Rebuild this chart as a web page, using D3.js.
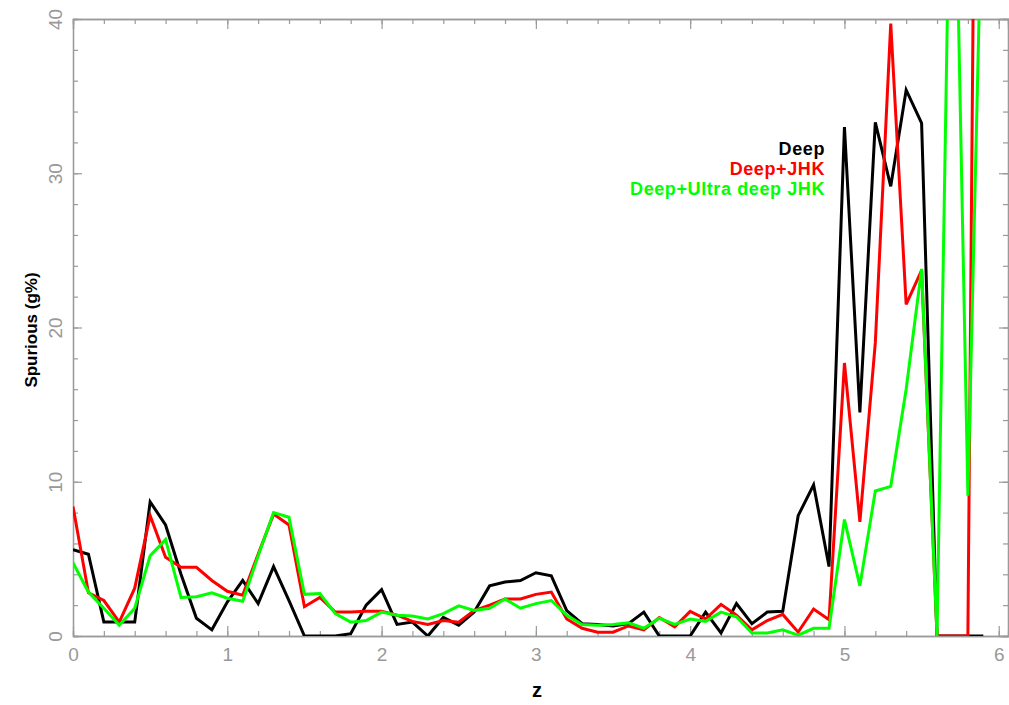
<!DOCTYPE html>
<html>
<head>
<meta charset="utf-8">
<script src="https://cdn.jsdelivr.net/npm/d3@7"></script>
<style>
  body { margin: 0; background: #fff; }
  svg { display: block; }
  .tick text { font-family: 'Liberation Sans', Arial, sans-serif; }
</style>
</head>
<body>
<div id="chart"></div>
<script>
'use strict'

// redshift bins
var zBins = [0.0, 0.1, 0.2, 0.3, 0.4, 0.5, 0.6, 0.7, 0.8, 0.9,
  1.0, 1.1, 1.2, 1.3, 1.4, 1.5, 1.6, 1.7, 1.8, 1.9,
  2.0, 2.1, 2.2, 2.3, 2.4, 2.5, 2.6, 2.7, 2.8, 2.9,
  3.0, 3.1, 3.2, 3.3, 3.4, 3.5, 3.6, 3.7, 3.8, 3.9,
  4.0, 4.1, 4.2, 4.3, 4.4, 4.5, 4.6, 4.7, 4.8, 4.9,
  5.0, 5.1, 5.2, 5.3, 5.4, 5.5, 5.6, 5.7, 5.8, 5.9]

var deep = [5.6, 5.3, 0.9, 0.9, 0.9, 8.7, 7.2, 4.0, 1.15, 0.4,
  2.2, 3.6, 2.1, 4.5, 2.3, 0, 0, 0, 0.15, 2.0,
  3.0, 0.75, 0.9, 0, 1.2, 0.7, 1.55, 3.25, 3.5, 3.6,
  4.1, 3.9, 1.65, 0.8, 0.75, 0.65, 0.8, 1.55, 0, 0,
  0, 1.55, 0.2, 2.1, 0.8, 1.55, 1.6, 7.8, 9.8, 4.5,
  33.0, 14.5, 33.3, 29.15, 35.4, 33.25, 0, 0, 0, 0]

var deepJHK = [8.4, 2.8, 2.3, 0.9, 3.1, 7.8, 5.1, 4.45, 4.45, 3.6,
  2.9, 2.65, 5.3, 7.9, 7.2, 1.9, 2.5, 1.55, 1.55, 1.6,
  1.6, 1.35, 0.95, 0.75, 1.0, 0.9, 1.65, 2.0, 2.4, 2.4,
  2.7, 2.85, 1.1, 0.5, 0.25, 0.25, 0.65, 0.4, 1.2, 0.6,
  1.6, 1.1, 2.05, 1.35, 0.4, 1.0, 1.4, 0.25, 1.75, 1.05,
  17.7, 7.4, 19.0, 39.7, 21.5, 23.7, 0, 0, 0, 120]

var deepUltra = [4.75, 2.85, 1.8, 0.7, 1.8, 5.2, 6.25, 2.5, 2.55, 2.8,
  2.45, 2.25, 5.2, 8.0, 7.7, 2.7, 2.75, 1.45, 0.9, 1.0,
  1.55, 1.35, 1.3, 1.1, 1.45, 1.95, 1.65, 1.8, 2.4, 1.8,
  2.1, 2.3, 1.35, 0.75, 0.7, 0.75, 0.85, 0.5, 1.15, 0.75,
  1.1, 0.95, 1.55, 1.25, 0.2, 0.2, 0.4, 0.05, 0.5, 0.5,
  7.55, 3.25, 9.4, 9.7, 16.0, 23.8, 0, 60, 9.1, 52]

var seriesNames = ['Deep', 'Deep+JHK', 'Deep+Ultra deep JHK']
var seriesColors = ['#000000', '#ff0000', '#00ff00']
var xTicks = [0, 1, 2, 3, 4, 5, 6]
var yTicks = [0, 10, 20, 30, 40]

var width = 1009
var height = 705
var plotLeft = 73
var plotRight = 1008
var plotTop = 19
var plotBottom = 636

var x = d3.scaleLinear().domain([0, 6.06]).range([plotLeft, plotRight])
var y = d3.scaleLinear().domain([0, 40]).range([plotBottom, plotTop])

var svg = d3.select('#chart').append('svg')
  .attr('width', width)
  .attr('height', height)

svg.append('defs').append('clipPath')
  .attr('id', 'plot')
  .append('rect')
  .attr('x', plotLeft)
  .attr('y', plotTop)
  .attr('width', plotRight - plotLeft)
  .attr('height', plotBottom - plotTop)

var axisColor = '#9a9a9a'

function styleAxis (g) {
  g.select('.domain').attr('stroke', axisColor).attr('stroke-width', 1.3)
  g.selectAll('.tick line').attr('stroke', axisColor).attr('stroke-width', 1.2)
  g.selectAll('.tick text')
    .attr('fill', '#999999')
    .style('font-size', '19px')
}

var xMinor = d3.range(0, 6.05, 0.2)
var yMinor = d3.range(0, 40.1, 2)

// minor ticks
svg.append('g')
  .attr('transform', 'translate(0,' + plotBottom + ')')
  .call(d3.axisBottom(x).tickValues(xMinor).tickSize(-5).tickFormat(''))
  .call(styleAxis)
svg.append('g')
  .attr('transform', 'translate(0,' + plotTop + ')')
  .call(d3.axisTop(x).tickValues(xMinor).tickSize(-5).tickFormat(''))
  .call(styleAxis)
svg.append('g')
  .attr('transform', 'translate(' + plotLeft + ',0)')
  .call(d3.axisLeft(y).tickValues(yMinor).tickSize(-5).tickFormat(''))
  .call(styleAxis)
svg.append('g')
  .attr('transform', 'translate(' + plotRight + ',0)')
  .call(d3.axisRight(y).tickValues(yMinor).tickSize(-5).tickFormat(''))
  .call(styleAxis)

// major ticks
svg.append('g')
  .attr('transform', 'translate(0,' + plotBottom + ')')
  .call(d3.axisBottom(x).tickValues(xTicks).tickSizeInner(-10).tickSizeOuter(0).tickFormat(d3.format('d')))
  .call(styleAxis)
  .selectAll('.tick text')
  .attr('y', 12)
svg.append('g')
  .attr('transform', 'translate(0,' + plotTop + ')')
  .call(d3.axisTop(x).tickValues(xTicks).tickSize(-10).tickFormat(''))
  .call(styleAxis)
var yAxis = svg.append('g')
  .attr('transform', 'translate(' + plotLeft + ',0)')
  .call(d3.axisLeft(y).tickValues(yTicks).tickSizeInner(-9).tickSizeOuter(0).tickFormat(d3.format('d')))
  .call(styleAxis)
yAxis.selectAll('.tick text')
  .attr('x', null)
  .attr('dy', null)
  .attr('text-anchor', 'middle')
  .attr('transform', 'translate(-11,0) rotate(-90)')
svg.append('g')
  .attr('transform', 'translate(' + plotRight + ',0)')
  .call(d3.axisRight(y).tickValues(yTicks).tickSize(-9).tickFormat(''))
  .call(styleAxis)

// lines
var series = [deep, deepJHK, deepUltra]
var line = d3.line()
  .x(function (d, i) { return x(zBins[i]) })
  .y(function (d) { return y(d) })

svg.append('g')
  .attr('clip-path', 'url(#plot)')
  .selectAll('path.series')
  .data(series)
  .enter().append('path')
  .classed('series', true)
  .attr('d', line)
  .attr('fill', 'none')
  .attr('stroke', function (d, i) { return seriesColors[i] })
  .attr('stroke-width', 3)
  .attr('stroke-linejoin', 'miter')

// legend
svg.append('g')
  .selectAll('text')
  .data(seriesNames)
  .enter().append('text')
  .attr('x', 825)
  .attr('y', function (d, i) { return 155 + i * 20 })
  .attr('text-anchor', 'end')
  .attr('fill', function (d, i) { return seriesColors[i] })
  .style('font-family', "'Liberation Sans', Arial, sans-serif")
  .style('font-weight', 'bold')
  .style('font-size', '18px')
  .style('letter-spacing', '0.6px')
  .text(function (d) { return d })

// axis titles
svg.append('text')
  .attr('x', 537)
  .attr('y', 697)
  .attr('text-anchor', 'middle')
  .style('font-family', "'Liberation Sans', Arial, sans-serif")
  .style('font-weight', 'bold')
  .style('font-size', '20px')
  .text('z')

svg.append('text')
  .attr('transform', 'translate(37,330) rotate(-90)')
  .attr('text-anchor', 'middle')
  .style('font-family', "'Liberation Sans', Arial, sans-serif")
  .style('font-weight', 'bold')
  .style('font-size', '17px')
  .text('Spurious (g%)')
</script>
</body>
</html>
